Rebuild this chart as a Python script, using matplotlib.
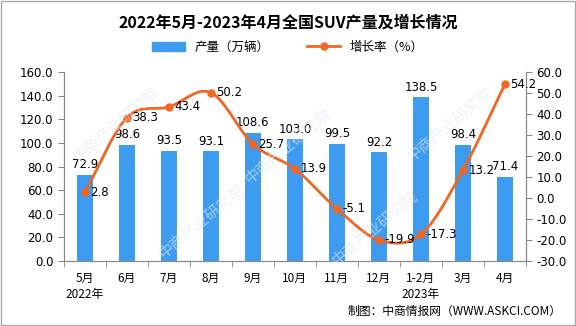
import numpy as np
import matplotlib.pyplot as plt
from matplotlib.lines import Line2D
from matplotlib.patches import Patch

plt.rcParams['font.family'] = ['Noto Sans CJK SC', 'DejaVu Sans']

# 月份与数据
bulan = ['5月\n2022年', '6月', '7月', '8月', '9月', '10月', '11月', '12月',
         '1-2月\n2023年', '3月', '4月']
produksi = [72.9, 98.6, 93.5, 93.1, 108.6, 103.0, 99.5, 92.2, 138.5, 98.4, 71.4]
pertumbuhan = [2.8, 38.3, 43.4, 50.2, 25.7, 13.9, -5.1, -19.9, -17.3, 13.2, 54.2]

warna_bar = '#3d9cf0'
warna_garis = '#f26522'


def kurva_halus(x, y, n=20):
    """Catmull-Rom untuk menggambar garis melengkung melewati titik data."""
    x = np.asarray(x, float)
    y = np.asarray(y, float)
    px = np.concatenate([[2 * x[0] - x[1]], x, [2 * x[-1] - x[-2]]])
    py = np.concatenate([[2 * y[0] - y[1]], y, [2 * y[-1] - y[-2]]])
    xs, ys = [], []
    t = np.linspace(0, 1, n)
    for i in range(1, len(px) - 2):
        for p, out in ((px, xs), (py, ys)):
            p0, p1, p2, p3 = p[i - 1], p[i], p[i + 1], p[i + 2]
            out.extend(0.5 * (2 * p1 + (-p0 + p2) * t
                              + (2 * p0 - 5 * p1 + 4 * p2 - p3) * t ** 2
                              + (-p0 + 3 * p1 - 3 * p2 + p3) * t ** 3))
    return np.array(xs), np.array(ys)


fig = plt.figure(figsize=(5.76, 3.26), dpi=100)
ax = fig.add_axes([0.111, 0.199, 0.802, 0.58])
ax2 = ax.twinx()

x = np.arange(len(bulan))
ax.bar(x, produksi, width=0.37, color=warna_bar, zorder=2)
for xi, v in zip(x, produksi):
    ax.text(xi, v + 3, f'{v:.1f}', ha='center', va='bottom', fontsize=8.5,
            family='DejaVu Sans')

xs, ys = kurva_halus(x, pertumbuhan)
ax2.plot(xs, ys, color=warna_garis, lw=2, zorder=3)
ax2.plot(x, pertumbuhan, 'o', color=warna_garis, ms=5, zorder=4)
for xi, v in zip(x, pertumbuhan):
    ax2.text(xi + 0.13, v, f'{v:.1f}', ha='left', va='center', fontsize=8.5,
             family='DejaVu Sans')

ax.set_xlim(-0.5, len(bulan) - 0.5)
ax.set_ylim(0, 160)
ax.set_yticks(np.arange(0, 161, 20))
ax.set_yticklabels([f'{v:.1f}' for v in np.arange(0, 161, 20)],
                   family='DejaVu Sans', fontsize=8.5)
ax2.set_ylim(-30, 60)
ax2.set_yticks(np.arange(-30, 61, 10))
ax2.set_yticklabels([f'{v:.1f}' for v in np.arange(-30, 61, 10)],
                    family='DejaVu Sans', fontsize=8.5)

ax.set_xticks(x)
ax.set_xticklabels(bulan, fontsize=8.5, va='top', linespacing=1.3)
ax.set_xticks(np.arange(-0.5, len(bulan), 1), minor=True)
ax.tick_params(axis='x', which='major', length=0, pad=8)
ax.tick_params(axis='x', which='minor', length=4, color='#888888')
ax.tick_params(axis='y', length=4, color='#888888')
ax2.tick_params(axis='y', length=4, color='#888888')

for a in (ax, ax2):
    a.spines['top'].set_visible(False)
    for s in ('left', 'right', 'bottom'):
        a.spines[s].set_color('#888888')

fig.text(0.5, 0.93, '2022年5月-2023年4月全国SUV产量及增长情况', ha='center',
         va='center', fontsize=11.5, weight='bold')

legenda = [Patch(color=warna_bar, label='产量（万辆）'),
           Line2D([], [], color=warna_garis, lw=2, marker='o', ms=5,
                  label='增长率（%）')]
fig.legend(handles=legenda, loc='center', bbox_to_anchor=(0.5, 0.855), ncol=2,
           frameon=False, fontsize=9, handlelength=2.6, columnspacing=3)

fig.text(0.975, 0.045, '制图：中商情报网（WWW.ASKCI.COM）', ha='right',
         va='center', fontsize=8.5)

# 水印
for wx, wy in [(0.2, 0.62), (0.5, 0.55), (0.78, 0.62), (0.35, 0.32),
               (0.65, 0.3)]:
    fig.text(wx, wy, '中商产业研究院', rotation=40, fontsize=11,
             color='#dce9f5', alpha=0.6, ha='center', va='center', zorder=0)

fig.patches.append(plt.Rectangle((0.002, 0.003), 0.996, 0.994,
                                 transform=fig.transFigure, fill=False,
                                 edgecolor='#aaaaaa', lw=1))

fig.savefig('out.png', dpi=100)
